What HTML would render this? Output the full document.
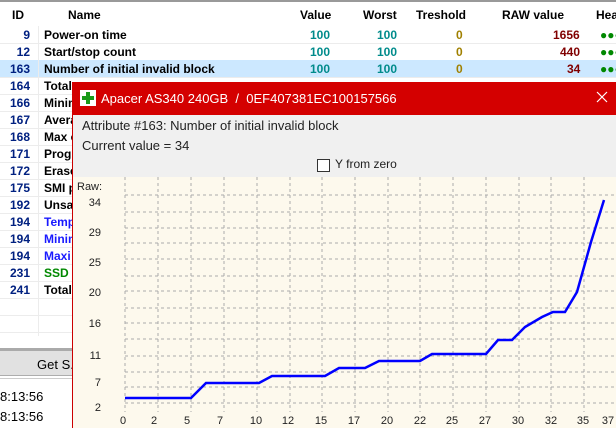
<!DOCTYPE html>
<html><head><style>
body{margin:0;width:616px;height:428px;overflow:hidden;background:#fff;font-family:"Liberation Sans",sans-serif;position:relative}
.a{position:absolute;white-space:nowrap}
.r{position:absolute;left:0;width:616px;height:17px;border-bottom:1px solid #ececec;font-size:12px;font-weight:bold}
.r span{position:absolute;top:2px}
</style></head><body>
<div class="a" style="left:0;top:0;width:616px;height:2px;background:#999"></div>
<div class="a" style="left:0;top:2px;width:616px;height:24px;background:#fff;font-size:12px;font-weight:bold">
<span class="a" style="left:12px;top:6px">ID</span><span class="a" style="left:68px;top:6px">Name</span>
<span class="a" style="left:300px;top:6px">Value</span><span class="a" style="left:363px;top:6px">Worst</span>
<span class="a" style="left:416px;top:6px">Treshold</span><span class="a" style="left:502px;top:6px">RAW value</span>
<span class="a" style="left:596px;top:6px">Hea</span></div>
<div class="r" style="top:26px"><span style="right:586px;color:#002080">9</span><span style="left:44px">Power-on time</span><span style="left:310px;color:#008b8b">100</span><span style="left:377px;color:#008b8b">100</span><span style="left:456px;color:#a08000">0</span><span style="left:553px;color:#800000">1656</span><span style="left:600px;color:#080">●●●</span></div>
<div class="r" style="top:43px"><span style="right:586px;color:#002080">12</span><span style="left:44px">Start/stop count</span><span style="left:310px;color:#008b8b">100</span><span style="left:377px;color:#008b8b">100</span><span style="left:456px;color:#a08000">0</span><span style="left:560px;color:#800000">440</span><span style="left:600px;color:#080">●●●</span></div>
<div class="r" style="top:60px;background:#cce8ff"><span style="right:586px;color:#002080">163</span><span style="left:44px">Number of initial invalid block</span><span style="left:310px;color:#008b8b">100</span><span style="left:377px;color:#008b8b">100</span><span style="left:456px;color:#a08000">0</span><span style="left:567px;color:#800000">34</span><span style="left:600px;color:#080">●●●</span></div>
<div class="r" style="top:77px"><span style="right:586px;color:#002080">164</span><span style="left:44px">Total</span></div>
<div class="r" style="top:94px"><span style="right:586px;color:#002080">166</span><span style="left:44px">Minim</span></div>
<div class="r" style="top:111px"><span style="right:586px;color:#002080">167</span><span style="left:44px">Avera</span></div>
<div class="r" style="top:128px"><span style="right:586px;color:#002080">168</span><span style="left:44px">Max e</span></div>
<div class="r" style="top:145px"><span style="right:586px;color:#002080">171</span><span style="left:44px">Progr</span></div>
<div class="r" style="top:162px"><span style="right:586px;color:#002080">172</span><span style="left:44px">Erase</span></div>
<div class="r" style="top:179px"><span style="right:586px;color:#002080">175</span><span style="left:44px">SMI p</span></div>
<div class="r" style="top:196px"><span style="right:586px;color:#002080">192</span><span style="left:44px">Unsaf</span></div>
<div class="r" style="top:213px"><span style="right:586px;color:#002080">194</span><span style="left:44px;color:#1a1aff">Temp</span></div>
<div class="r" style="top:230px"><span style="right:586px;color:#002080">194</span><span style="left:44px;color:#1a1aff">Minim</span></div>
<div class="r" style="top:247px"><span style="right:586px;color:#002080">194</span><span style="left:44px;color:#1a1aff">Maxi</span></div>
<div class="r" style="top:264px"><span style="right:586px;color:#002080">231</span><span style="left:44px;color:#080">SSD L</span></div>
<div class="r" style="top:281px"><span style="right:586px;color:#002080">241</span><span style="left:44px">Total</span></div>
<div class="r" style="top:298px"></div><div class="r" style="top:315px"></div>
<div class="a" style="left:38px;top:26px;width:1px;height:310px;background:#ececec"></div>
<div class="a" style="left:0;top:348px;width:616px;height:3px;background:#aaa"></div>
<div class="a" style="left:0;top:351px;width:616px;height:24px;background:#e1e1e1;border-bottom:1px solid #adadad"></div>
<div class="a" style="left:37px;top:357px;font-size:13px">Get S.</div>
<div class="a" style="left:0;top:378px;width:616px;height:1px;background:#ccc"></div>
<div class="a" style="left:0;top:389px;font-size:13px">8:13:56</div>
<div class="a" style="left:0;top:409px;font-size:13px">8:13:56</div>

<div class="a" style="left:72px;top:82px;width:544px;height:346px;background:#f0f0f0;border-left:1px solid #c00"></div>
<div class="a" style="left:72px;top:82px;width:544px;height:33px;background:#d40000"></div>
<div class="a" style="left:80px;top:90px;width:16px;height:16px;background:#fff"></div>
<div class="a" style="left:86px;top:92px;width:4px;height:12px;background:#1a9a1a"></div>
<div class="a" style="left:82px;top:96px;width:12px;height:4px;background:#1a9a1a"></div>
<div class="a" style="left:101px;top:91px;font-size:13px;color:#fff">Apacer AS340 240GB&nbsp; / &nbsp;0EF407381EC100157566</div>
<svg class="a" style="left:596px;top:91px" width="12" height="12"><path d="M1 1L11 11M11 1L1 11" stroke="#fff" stroke-width="1.2"/></svg>
<div class="a" style="left:82px;top:118px;font-size:13px;color:#222">Attribute #163: Number of initial invalid block</div>
<div class="a" style="left:82px;top:138px;font-size:13px;color:#222">Current value = 34</div>
<div class="a" style="left:317px;top:159px;width:11px;height:11px;border:1px solid #333;background:#fff"></div>
<div class="a" style="left:335px;top:157px;font-size:12px;color:#222">Y from zero</div>
<svg class="a" style="left:73px;top:177px" width="543" height="251" viewBox="73 177 543 251">
<rect x="73" y="177" width="543" height="251" fill="#fdf9ed"/>
<g stroke="#aaa" stroke-dasharray="3,3" stroke-width="1">
<line x1="125" y1="177" x2="125" y2="412"/><line x1="158" y1="177" x2="158" y2="412"/><line x1="191" y1="177" x2="191" y2="412"/><line x1="224" y1="177" x2="224" y2="412"/><line x1="257" y1="177" x2="257" y2="412"/><line x1="290" y1="177" x2="290" y2="412"/><line x1="322" y1="177" x2="322" y2="412"/><line x1="355" y1="177" x2="355" y2="412"/><line x1="388" y1="177" x2="388" y2="412"/><line x1="420" y1="177" x2="420" y2="412"/><line x1="453" y1="177" x2="453" y2="412"/><line x1="486" y1="177" x2="486" y2="412"/><line x1="519" y1="177" x2="519" y2="412"/><line x1="551" y1="177" x2="551" y2="412"/><line x1="584" y1="177" x2="584" y2="412"/>
<line x1="125" y1="195" x2="616" y2="195"/><line x1="125" y1="212" x2="616" y2="212"/><line x1="125" y1="228" x2="616" y2="228"/><line x1="125" y1="243" x2="616" y2="243"/><line x1="125" y1="259" x2="616" y2="259"/><line x1="125" y1="276" x2="616" y2="276"/><line x1="125" y1="291" x2="616" y2="291"/><line x1="125" y1="308" x2="616" y2="308"/><line x1="125" y1="323" x2="616" y2="323"/><line x1="125" y1="339" x2="616" y2="339"/><line x1="125" y1="356" x2="616" y2="356"/><line x1="125" y1="372" x2="616" y2="372"/><line x1="125" y1="387" x2="616" y2="387"/><line x1="125" y1="403" x2="616" y2="403"/>
</g>
<polyline fill="none" stroke="#0000ff" stroke-width="2.5" points="125,398 191,398 206,383 259,383 272,376 325,376 339,368 365,368 379,361 420,361 432,354 486,354 498,340 512,340 525,327 542,317 553,312 565,312 577,292 591,242 604,200"/>
<g font-family="Liberation Sans" font-size="11" fill="#222">
<text x="77" y="190">Raw:</text>
<g text-anchor="end"><text x="101" y="206">34</text><text x="101" y="236">29</text><text x="101" y="266">25</text><text x="101" y="296">20</text><text x="101" y="327">16</text><text x="101" y="359">11</text><text x="101" y="386">7</text><text x="101" y="411">2</text></g>
<g text-anchor="middle"><text x="123" y="424">0</text><text x="154" y="424">2</text><text x="187" y="424">5</text><text x="220" y="424">7</text><text x="256" y="424">10</text><text x="288" y="424">12</text><text x="321" y="424">15</text><text x="354" y="424">17</text><text x="387" y="424">20</text><text x="420" y="424">22</text><text x="452" y="424">25</text><text x="485" y="424">27</text><text x="518" y="424">30</text><text x="551" y="424">32</text><text x="583" y="424">35</text><text x="608" y="424">37</text></g>
</g>
</svg>
</body></html>
